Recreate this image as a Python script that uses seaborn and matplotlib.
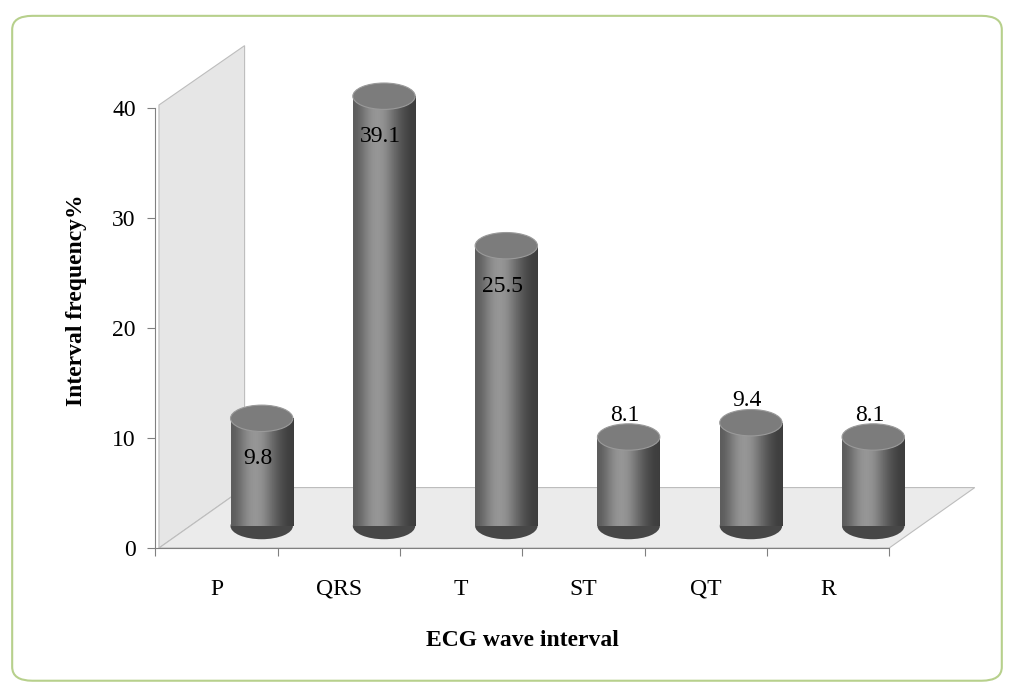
import numpy as np
import pandas as pd
import seaborn as sns
import matplotlib.pyplot as plt
from matplotlib.patches import Polygon, Ellipse, FancyBboxPatch

waves = ["P", "QRS", "T", "ST", "QT", "R"]
freq = [9.8, 39.1, 25.5, 8.1, 9.4, 8.1]
label_inside = [True, True, True, False, False, False]
yticks = [0, 10, 20, 30, 40]

plt.rcParams['font.family'] = ['Liberation Serif', 'DejaVu Serif']
fig = plt.figure(figsize=(10.15, 6.89), dpi=100)

# rounded frame
frame = FancyBboxPatch((0.012, 0.012), 0.975, 0.965, boxstyle="round,pad=0,rounding_size=0.02",
                       transform=fig.transFigure, fc="white", ec="#b7d08c", lw=1.5, zorder=-10)
fig.patches.append(frame)

left, bottom, width, height = 0.153, 0.2046, 0.723, 0.718
ax = fig.add_axes([left, bottom, width, height])
ax.set_xlim(-0.5, 5.5)
ax.set_ylim(0, 45)
ax.patch.set_alpha(0)

# depth offset of the 3D box
dx, dy = 0.7, 5.5
wall = Polygon([(-0.47, 0), (-0.47, 40.3), (-0.47 + dx, 45.7), (-0.47 + dx, dy)],
               closed=True, fc="#e6e6e6", ec="#bdbdbd", lw=0.8, clip_on=False, zorder=0)
floor = Polygon([(-0.47, 0), (5.5, 0), (5.5 + dx, dy), (-0.47 + dx, dy)],
                closed=True, fc="#ebebeb", ec="#bdbdbd", lw=0.8, clip_on=False, zorder=0)
ax.add_patch(wall)
ax.add_patch(floor)

for s in ["top", "right"]:
    ax.spines[s].set_visible(False)
ax.spines["left"].set_bounds(0, 40)
ax.spines["left"].set_color("#808080")
ax.spines["bottom"].set_color("#808080")
ax.set_yticks(yticks)
ax.set_yticklabels([str(t) for t in yticks], fontsize=17)
ax.set_xticks(np.arange(len(waves) + 1) - 0.5)
ax.set_xticklabels([])
ax.set_xticks(np.arange(len(waves)), minor=True)
ax.set_xticklabels(waves, minor=True, fontsize=17)
ax.tick_params(axis="x", which="minor", length=0, pad=22)
ax.tick_params(axis="x", which="major", length=6, color="#808080")
ax.tick_params(axis="y", length=6, color="#808080", pad=8)
ax.set_xlabel("ECG wave interval", fontsize=17, fontweight="bold", labelpad=22)
ax.set_ylabel("Interval frequency%", fontsize=17, fontweight="bold", labelpad=18)

# overlay axes for the cylinders, shifted into the depth (extra room on the right)
shift_x, base, extra = 0.37, 2.0, 1.0
ax2 = fig.add_axes([left, bottom, width * (6 + extra) / 6, height])
df = pd.DataFrame({"wave": waves, "freq": freq})
sns.barplot(data=df, x="wave", y="freq", ax=ax2, width=0.51, color="#707070", edgecolor="none")
ax2.axis("off")

grad = np.array([[0.36, 0.46, 0.56, 0.6, 0.56, 0.46, 0.36, 0.28, 0.24]])
for i, p in enumerate(list(ax2.patches)):
    x0, w, h = p.get_x(), p.get_width(), p.get_height()
    xc = x0 + w / 2
    ax2.add_patch(Ellipse((xc, 0), w, 2.4, fc="#474747", ec="none", zorder=1))
    im = ax2.imshow(grad, cmap="gray", vmin=0, vmax=1, aspect="auto",
                    extent=(x0, x0 + w, 0, h), zorder=2, interpolation="bicubic")
    im.set_clip_path(p)
    p.set_facecolor("none")
    ax2.add_patch(Ellipse((xc, h), w, 2.4, fc="#7c7c7c", ec="#9a9a9a", lw=0.8, zorder=3))
    ty = h - 3.7 if label_inside[i] else h + 2.0
    ax2.text(xc - 0.03, ty, f"{freq[i]:.1f}", ha="center", va="center", fontsize=17, zorder=4)
ax2.set_xlim(-0.5 - shift_x, 5.5 + extra - shift_x)
ax2.set_ylim(-base, 45 - base)

fig.savefig("out.png", dpi=100)
